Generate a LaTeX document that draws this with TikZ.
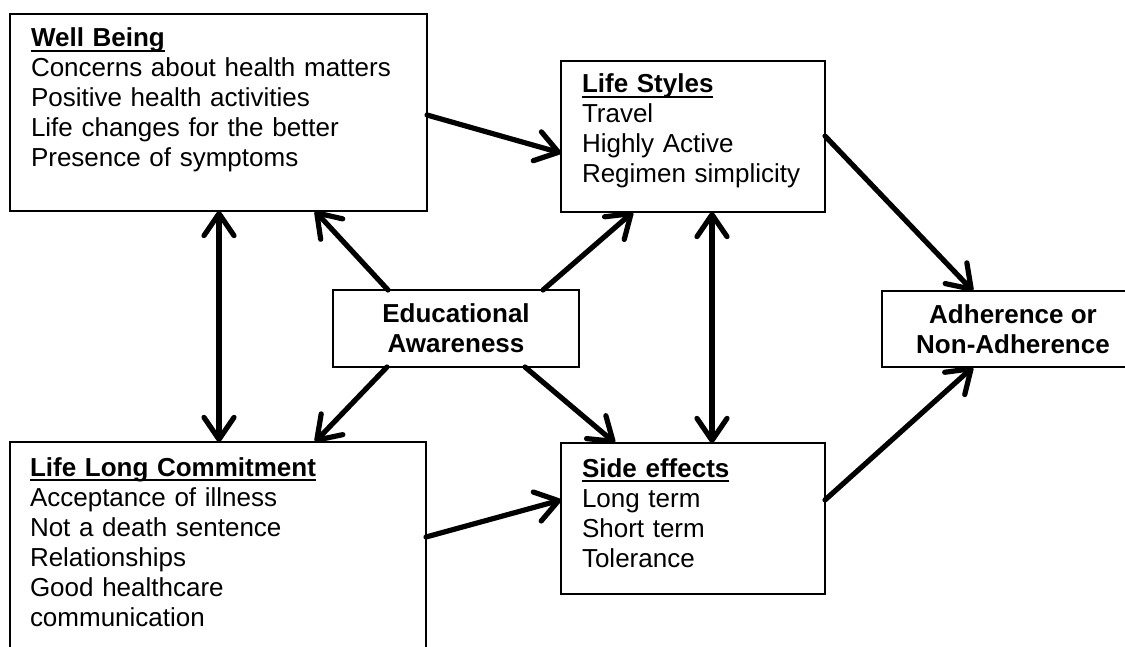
\documentclass[tikz,border=0pt]{standalone}
\usepackage{fontspec}
\setmainfont{Liberation Sans}
\usepackage{tikz}
\usetikzlibrary{arrows.meta, positioning, calc}

% 加粗带下划线的标题
\newcommand{\boxhead}[1]{\setbox0=\hbox{\bfseries #1}\rlap{\rule[-5pt]{\wd0}{2.2pt}}\box0}

\tikzset{
    % 左上角对齐的文字框
    listbox/.style={draw, line width=1.2pt, anchor=north west, outer sep=0pt,
        inner xsep=21pt, inner ysep=0pt, align=left,
        font=\fontsize{26}{30}\selectfont},
    % 居中的粗体框
    centerbox/.style={draw, line width=1.2pt, outer sep=0pt, inner sep=0pt,
        align=center, font=\fontsize{26}{30}\selectfont\bfseries},
    % 粗箭头
    tip/.style={line width=5.2pt, line cap=round,
        -{Straight Barb[length=22pt,width=30pt,round]}},
    twotip/.style={line width=5.2pt,
        {Straight Barb[length=22pt,width=30pt,round]}-{Straight Barb[length=22pt,width=30pt,round]}}
}

\begin{document}
\begin{tikzpicture}[x=1pt, y=-1pt]
        % 画布大小
        \useasboundingbox (0,0) rectangle (1125,647);
        \clip (0,0) rectangle (1125,647);
        % 左上：Well Being
        \node[listbox, text width=375pt, text height=33pt, text depth=164pt] (wb) at (10,14)
            {\boxhead{Well Being}\\ Concerns about health matters\\ Positive health activities\\
             Life changes for the better\\ Presence of symptoms};
        % 右上：Life Styles
        \node[listbox, text width=222pt, text height=32pt, text depth=119pt] (ls) at (561,61)
            {\boxhead{Life Styles}\\ Travel\\ Highly Active\\ Regimen simplicity};
        % 左下：Life Long Commitment（下边出画）
        \node[listbox, inner xsep=20pt, text width=376pt, text height=34pt, text depth=230pt] (llc) at (10,442)
            {\boxhead{Life Long Commitment}\\ Acceptance of illness\\ Not a death sentence\\
             Relationships\\ Good healthcare\\ communication};
        % 右下：Side effects
        \node[listbox, text width=222pt, text height=34pt, text depth=117pt] (se) at (561,443)
            {\boxhead{Side effects}\\ Long term\\ Short term\\ Tolerance};
        % 中间两个框
        \node[centerbox, minimum width=246pt, minimum height=77pt] (ea) at (456,328.5)
            {Educational\\ Awareness};
        \node[centerbox, minimum width=262pt, minimum height=76pt] (ad) at (1013,329)
            {Adherence or\\ Non-Adherence};
        % 横向箭头
        \draw[tip] ($(wb.north east)+(0,101)$) -- ($(ls.north west)+(0,92)$);
        \draw[tip] ($(llc.north east)+(0,95)$) -- ($(se.north west)+(0,57)$);
        \draw[tip] ($(ls.north east)+(0,75)$) -- ($(ad.north west)+(91,0)$);
        \draw[tip] ($(se.north east)+(0,57)$) -- ($(ad.south west)+(91,0)$);
        % 竖向双向箭头
        \draw[twotip] ($(wb.south west)+(209,0)$) -- ($(llc.north west)+(209,0)$);
        \draw[twotip] ($(ls.south west)+(151,0)$) -- ($(se.north west)+(151,0)$);
        % 从 Educational Awareness 发出的四条箭头
        \draw[tip] ($(ea.north west)+(55,0)$) -- ($(wb.south west)+(305,0)$);
        \draw[tip] ($(ea.north west)+(210,0)$) -- ($(ls.south west)+(72,0)$);
        \draw[tip] ($(ea.south west)+(54,0)$) -- ($(llc.north west)+(305,0)$);
        \draw[tip] ($(ea.south west)+(192,0)$) -- ($(se.north west)+(54,0)$);
    \end{tikzpicture}
\end{document}
